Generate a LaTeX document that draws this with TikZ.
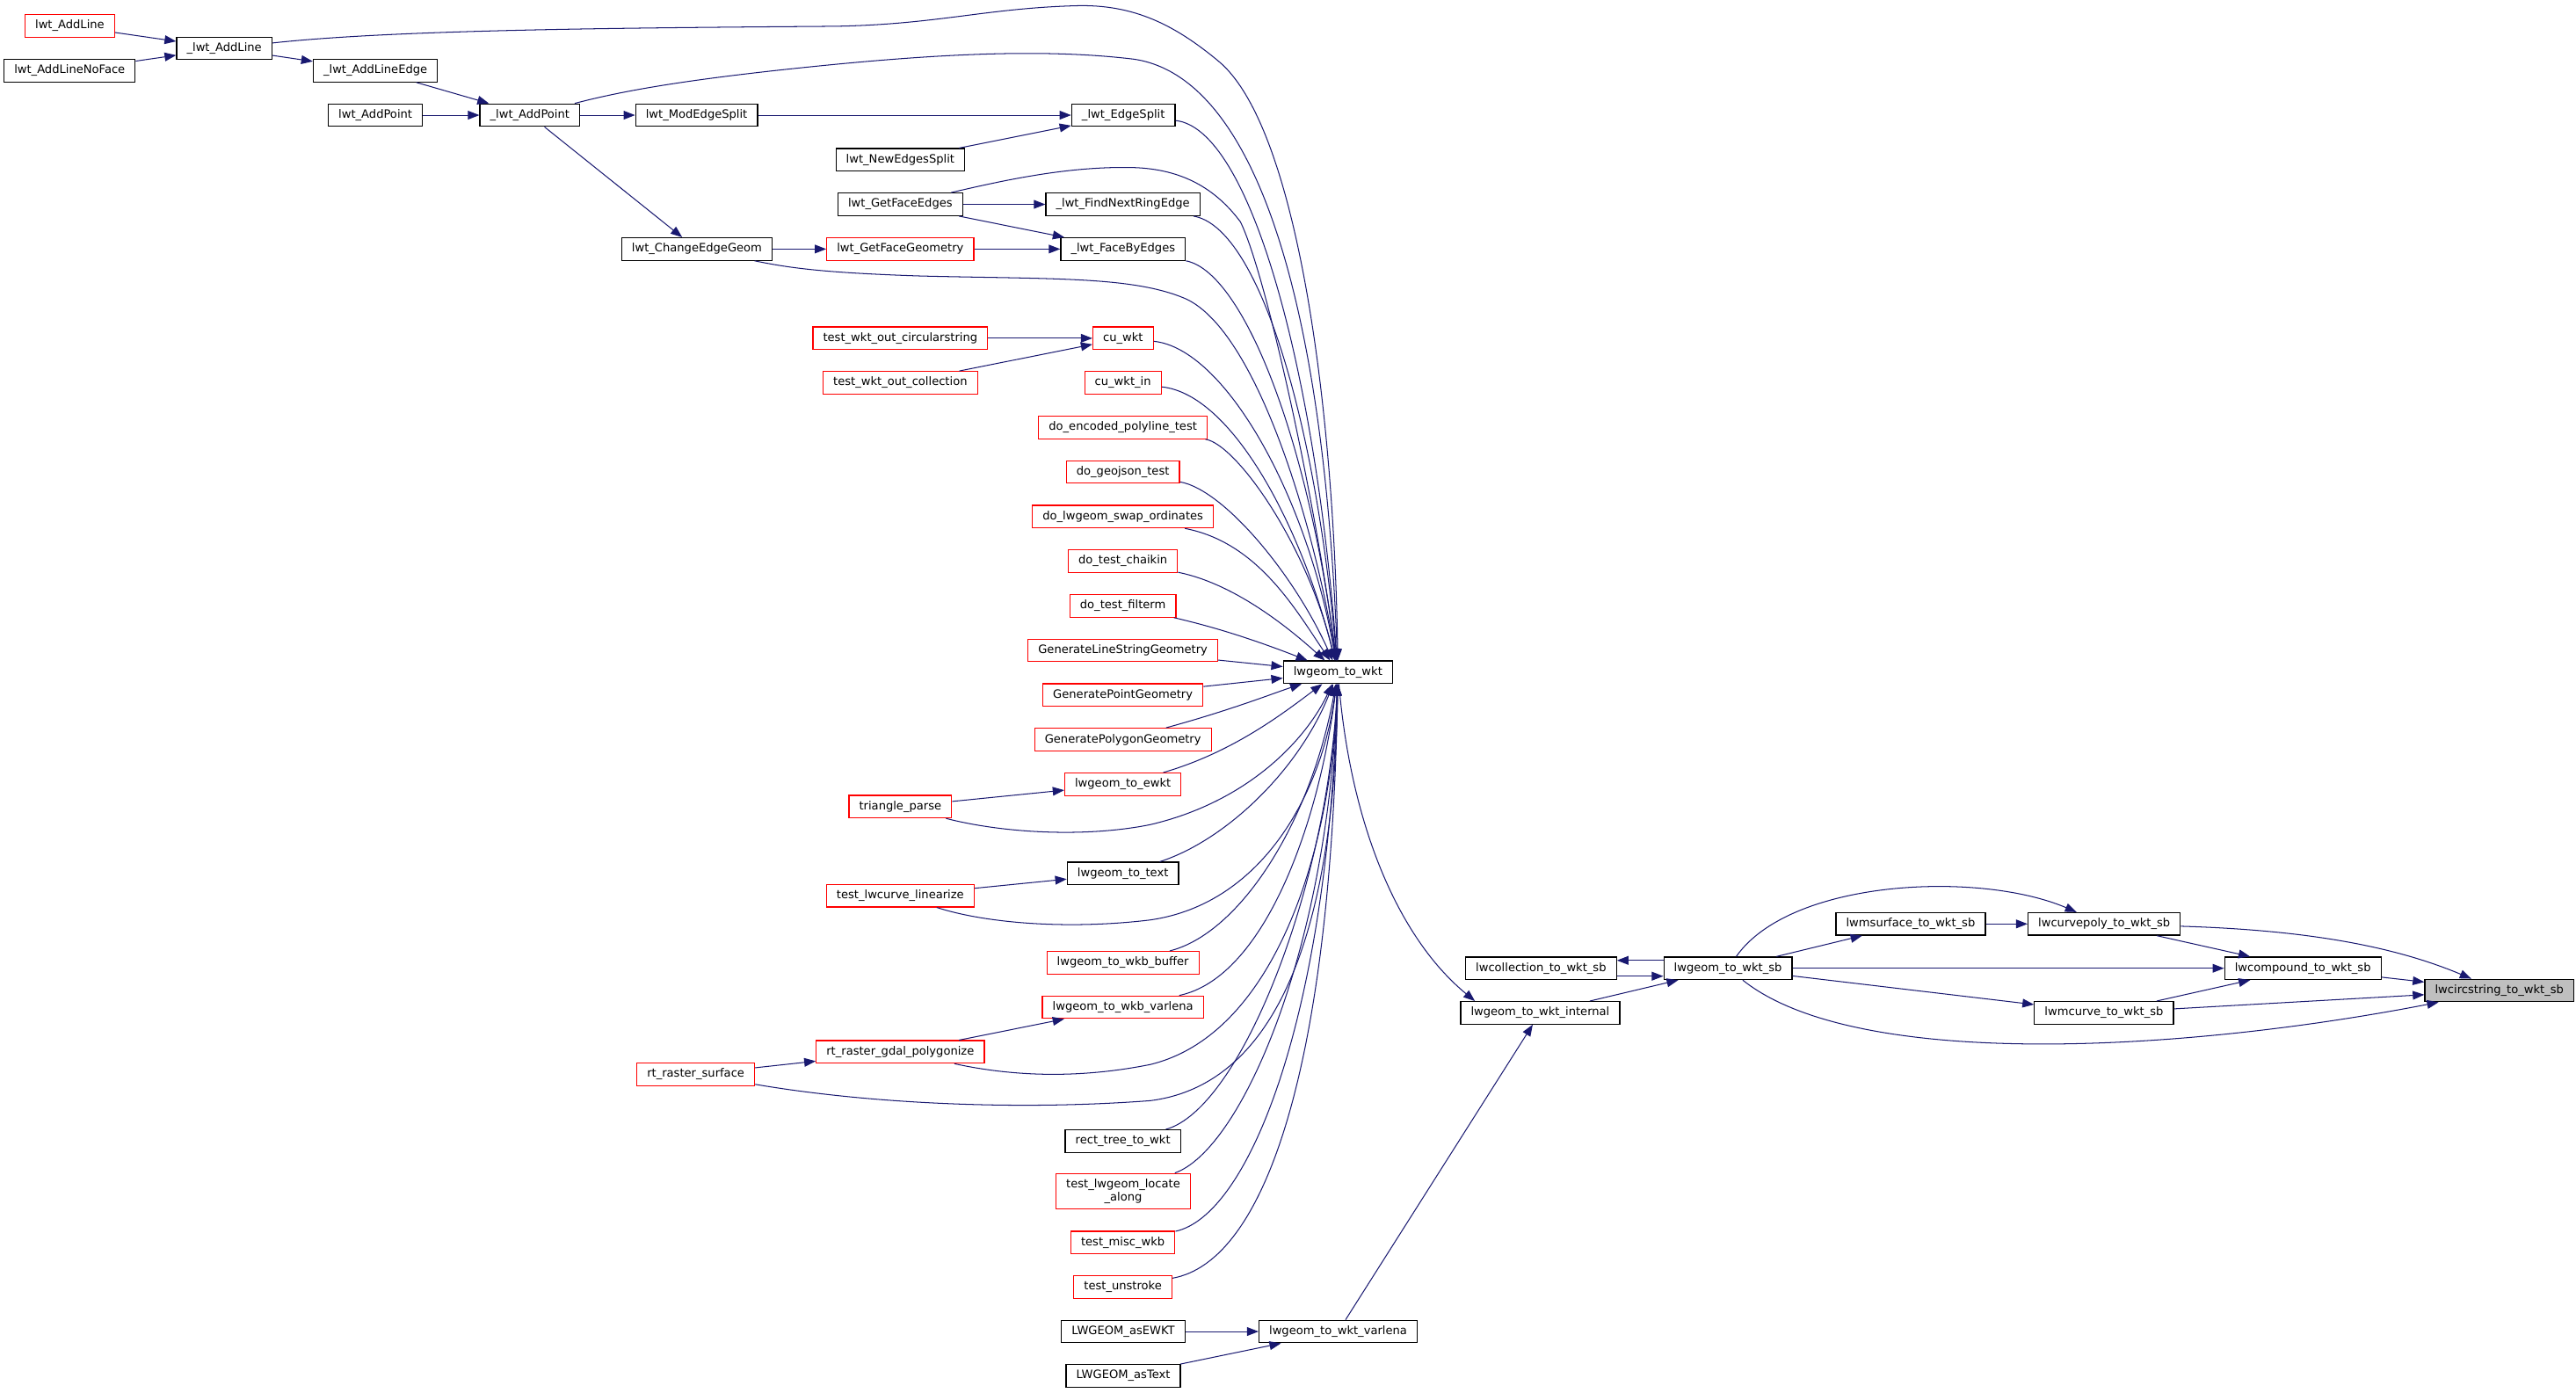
\documentclass[tikz,border=0pt]{standalone}
\usepackage{fontspec}
\usetikzlibrary{arrows.meta}
\newfontfamily\dvs{DejaVu Sans}
\definecolor{edgec}{HTML}{191970}
\definecolor{rootfill}{HTML}{BFBFBF}
\begin{document}
\begin{tikzpicture}[x=1pt,y=-1pt,
  nd/.style={draw=black, line width=0.65pt, rectangle, minimum height=13.7pt, inner xsep=6.2pt, inner ysep=0pt, font=\dvs\fontsize{7}{8}\selectfont, text=black, fill=white},
  rnd/.style={nd, draw=red},
  rootnd/.style={nd, fill=rootfill},
  ed/.style={draw=edgec, line width=0.55pt, -{Triangle[length=7pt,width=5.3pt]}}]
\useasboundingbox (0,0) rectangle (1568,847.4);
% nodes
\node[rnd] (lwtAL) at (42.5,15.8) {lwt\_AddLine};
\node[nd] (lwtALNF) at (42.4,43) {lwt\_AddLineNoFace};
\node[nd] (iAL) at (136.5,29.4) {\_lwt\_AddLine};
\node[nd] (iALE) at (228.5,43) {\_lwt\_AddLineEdge};
\node[nd] (lwtAP) at (228.5,70.1) {lwt\_AddPoint};
\node[nd] (iAP) at (322.5,70.1) {\_lwt\_AddPoint};
\node[nd] (lwtMES) at (424,70.1) {lwt\_ModEdgeSplit};
\node[nd] (lwtCEG) at (424.2,151.6) {lwt\_ChangeEdgeGeom};
\node[nd] (iES) at (683.8,70.1) {\_lwt\_EdgeSplit};
\node[nd] (lwtNES) at (548,97.3) {lwt\_NewEdgesSplit};
\node[nd] (lwtGFE) at (548,124.4) {lwt\_GetFaceEdges};
\node[nd] (iFNRE) at (683.5,124.4) {\_lwt\_FindNextRingEdge};
\node[rnd] (lwtGFG) at (548,151.6) {lwt\_GetFaceGeometry};
\node[nd] (iFBE) at (683.6,151.6) {\_lwt\_FaceByEdges};
\node[rnd] (twoc) at (548,205.9) {test\_wkt\_out\_circularstring};
\node[rnd] (cuw) at (683.6,205.9) {cu\_wkt};
\node[rnd] (twocol) at (548,233) {test\_wkt\_out\_collection};
\node[rnd] (cuwi) at (683.5,233) {cu\_wkt\_in};
\node[rnd] (dept) at (683.5,260.2) {do\_encoded\_polyline\_test};
\node[rnd] (dgt) at (683.5,287.3) {do\_geojson\_test};
\node[rnd] (dlso) at (683.5,314.5) {do\_lwgeom\_swap\_ordinates};
\node[rnd] (dtc) at (683.5,341.6) {do\_test\_chaikin};
\node[rnd] (dtf) at (683.5,368.8) {do\_test\_filterm};
\node[rnd] (glsg) at (683.5,395.9) {GenerateLineStringGeometry};
\node[rnd] (gptg) at (683.5,423.1) {GeneratePointGeometry};
\node[rnd] (gpyg) at (683.5,450.2) {GeneratePolygonGeometry};
\node[rnd] (lte) at (683.5,477.4) {lwgeom\_to\_ewkt};
\node[rnd] (tp) at (548,491) {triangle\_parse};
\node[nd] (ltt) at (683.5,531.7) {lwgeom\_to\_text};
\node[rnd] (tlcl) at (548,545.2) {test\_lwcurve\_linearize};
\node[rnd] (ltwb) at (683.5,586) {lwgeom\_to\_wkb\_buffer};
\node[rnd] (ltwv) at (683.5,613.1) {lwgeom\_to\_wkb\_varlena};
\node[rnd] (rgp) at (548,640.3) {rt\_raster\_gdal\_polygonize};
\node[rnd] (rrs) at (423.5,653.9) {rt\_raster\_surface};
\node[nd] (rttw) at (683.5,694.6) {rect\_tree\_to\_wkt};
\node[rnd, align=center, minimum height=21.4pt] (tlla) at (683.7,725) {test\_lwgeom\_locate\\\_along};
\node[rnd] (tmw) at (683.5,756.3) {test\_misc\_wkb};
\node[rnd] (tus) at (683.5,783.4) {test\_unstroke};
\node[nd] (asE) at (683.7,810.5) {LWGEOM\_asEWKT};
\node[nd] (asT) at (683.7,837.5) {LWGEOM\_asText};
\node[nd] (ltwvar) at (814.5,810.5) {lwgeom\_to\_wkt\_varlena};
\node[nd] (w) at (814.4,409.2) {lwgeom\_to\_wkt};
\node[nd] (lwi) at (937.5,616.5) {lwgeom\_to\_wkt\_internal};
\node[nd] (lwc) at (938,589.4) {lwcollection\_to\_wkt\_sb};
\node[nd] (ltws) at (1051.8,589.4) {lwgeom\_to\_wkt\_sb};
\node[nd] (lms) at (1163,562.4) {lwmsurface\_to\_wkt\_sb};
\node[nd] (lcp) at (1280.8,562.4) {lwcurvepoly\_to\_wkt\_sb};
\node[nd] (lcmp) at (1401.7,589.4) {lwcompound\_to\_wkt\_sb};
\node[nd] (lmc) at (1280.7,616.5) {lwmcurve\_to\_wkt\_sb};
\node[rootnd] (lcs) at (1521.3,602.9) {lwcircstring\_to\_wkt\_sb};
% edges upper left
\draw[ed] (lwtAL) -- (iAL);
\draw[ed] (lwtALNF) -- (iAL);
\draw[ed] (iAL) -- (iALE);
\draw[ed] (iAL) .. controls (240,18) and (380,17) .. (508,16) .. controls (570,15) and (600,5) .. (655,3.5) .. controls (690,2.5) and (715,15) .. (742,37.5) .. controls (790,78) and (812,250) .. (w);
\draw[ed] (iALE) -- (iAP);
\draw[ed] (lwtAP) -- (iAP);
\draw[ed] (iAP) -- (lwtMES);
\draw[ed] (iAP) -- (lwtCEG);
\draw[ed] (iAP) .. controls (380,55) and (420,48) .. (500,40) .. controls (580,32) and (640,30) .. (690,36) .. controls (760,46) and (805,170) .. (w);
\draw[ed] (lwtMES) -- (iES);
\draw[ed] (lwtNES) -- (iES);
\draw[ed] (iES) .. controls (760,78) and (800,220) .. (w);
\draw[ed] (lwtGFE) -- (iFNRE);
\draw[ed] (lwtGFE) -- (iFBE);
\draw[ed] (lwtGFE) .. controls (610,110) and (650,101) .. (690,102) .. controls (720,103) and (740,115) .. (755,135) .. controls (770,165) and (800,300) .. (w);
\draw[ed] (lwtCEG) -- (lwtGFG);
\draw[ed] (lwtGFG) -- (iFBE);
\draw[ed] (lwtCEG) .. controls (480,163) and (500,166) .. (560,168) .. controls (640,170) and (690,168) .. (722,182) .. controls (765,202) and (800,320) .. (w);
\draw[ed] (iFNRE) .. controls (765,138) and (800,250) .. (w);
\draw[ed] (iFBE) .. controls (755,165) and (795,260) .. (w);
\draw[ed] (twoc) -- (cuw);
\draw[ed] (twocol) -- (cuw);
\draw[ed] (cuw) .. controls (745,212) and (795,300) .. (w);
\draw[ed] (cuwi) .. controls (750,240) and (792,320) .. (w);
\draw[ed] (dept) .. controls (752,270) and (795,330) .. (w);
\draw[ed] (dgt) .. controls (745,298) and (788,350) .. (w);
\draw[ed] (dlso) .. controls (765,330) and (788,370) .. (w);
\draw[ed] (dtc) .. controls (750,355) and (782,380) .. (w);
\draw[ed] (dtf) .. controls (745,383) and (770,392) .. (w);
\draw[ed] (glsg) -- (w);
\draw[ed] (gptg) -- (w);
\draw[ed] (gpyg) .. controls (750,432) and (775,422) .. (w);
\draw[ed] (lte) .. controls (750,458) and (780,435) .. (w);
\draw[ed] (tp) -- (lte);
\draw[ed] (tp) .. controls (610,507) and (660,510) .. (700,502) .. controls (760,488) and (795,450) .. (w);
\draw[ed] (ltt) .. controls (745,512) and (790,470) .. (w);
\draw[ed] (tlcl) -- (ltt);
\draw[ed] (tlcl) .. controls (600,562) and (650,566) .. (700,560) .. controls (770,550) and (805,480) .. (w);
\draw[ed] (ltwb) .. controls (755,568) and (798,500) .. (w);
\draw[ed] (ltwv) .. controls (770,595) and (803,500) .. (w);
\draw[ed] (rgp) -- (ltwv);
\draw[ed] (rgp) .. controls (620,656) and (660,656) .. (700,648) .. controls (775,630) and (810,520) .. (w);
\draw[ed] (rrs) -- (rgp);
\draw[ed] (rrs) .. controls (530,672) and (620,676) .. (700,670) .. controls (780,660) and (812,560) .. (w);
\draw[ed] (rttw) .. controls (755,675) and (808,540) .. (w);
\draw[ed] (tlla) .. controls (755,700) and (808,580) .. (w);
\draw[ed] (tmw) .. controls (760,740) and (808,620) .. (w);
\draw[ed] (tus) .. controls (770,768) and (810,650) .. (w);
\draw[ed] (asE) -- (ltwvar);
\draw[ed] (asT) -- (ltwvar);
\draw[ed] (ltwvar) -- (lwi);
\draw[ed] (w) .. controls (822,500) and (850,570) .. ([xshift=9pt]lwi.north west);
% right cluster
\draw[ed] ([yshift=4.8pt]ltws.west) -- ([yshift=4.8pt]lwc.east);
\draw[ed] ([yshift=-4.8pt]lwc.east) -- ([yshift=-4.8pt]ltws.west);
\draw[ed] (lwi) -- (ltws);
\draw[ed] (ltws) -- (lms);
\draw[ed] (ltws) .. controls (1090,535) and (1205,530) .. (lcp);
\draw[ed] (ltws) -- (lcmp);
\draw[ed] (ltws) -- (lmc);
\draw[ed] (ltws) .. controls (1130,652) and (1330,640) .. (lcs);
\draw[ed] (lms) -- (lcp);
\draw[ed] (lcp) -- (lcmp);
\draw[ed] (lcp) .. controls (1400,566) and (1455,575) .. (lcs);
\draw[ed] (lcmp) -- (lcs);
\draw[ed] (lmc) -- (lcmp);
\draw[ed] (lmc) -- (lcs);
\end{tikzpicture}
\end{document}
